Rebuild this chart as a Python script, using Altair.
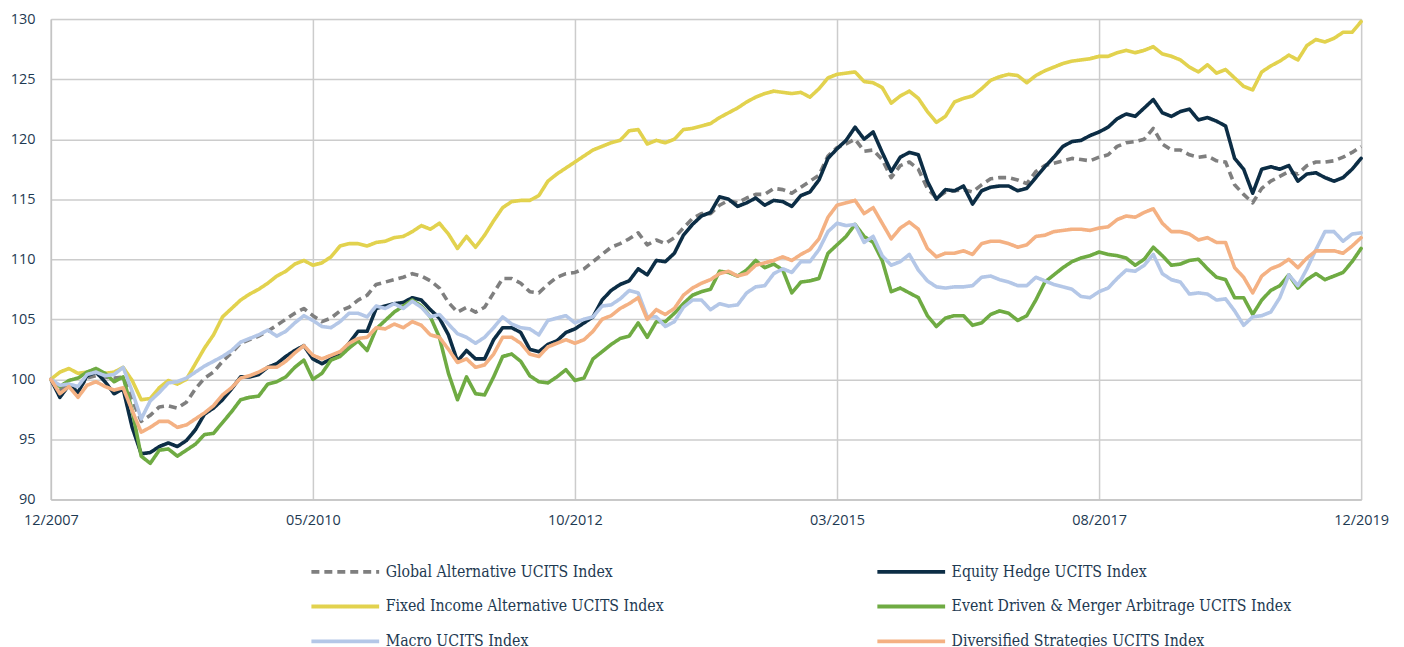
import json
import altair as alt
import pandas as pd

# ---------------- data (monthly index levels) ----------------
series_names = [
    "Global Alternative UCITS Index",
    "Equity Hedge UCITS Index",
    "Fixed Income Alternative UCITS Index",
    "Event Driven & Merger Arbitrage UCITS Index",
    "Macro UCITS Index",
    "Diversified Strategies UCITS Index",
]
# legend reading order (two columns, filled column by column)
legend_order = [
    "Global Alternative UCITS Index",
    "Fixed Income Alternative UCITS Index",
    "Macro UCITS Index",
    "Equity Hedge UCITS Index",
    "Event Driven & Merger Arbitrage UCITS Index",
    "Diversified Strategies UCITS Index",
]
tick_labels = ["12/2007", "05/2010", "10/2012", "03/2015", "08/2017", "12/2019"]

global_alt = [
    100.0, 99.1, 99.6, 99.1, 100.1, 100.3, 100.2, 100.1, 100.2, 98.3,
    96.5, 97.0, 97.7, 97.8, 97.6, 98.1, 99.2, 100.1, 100.6, 101.5,
    102.2, 103.0, 103.3, 103.6, 104.0, 104.5, 105.0, 105.5, 105.9, 105.3,
    104.8, 105.1, 105.7, 106.0, 106.6, 107.0, 107.9, 108.1, 108.3, 108.5,
    108.8, 108.6, 108.2, 107.6, 106.4, 105.6, 106.0, 105.6, 106.0, 107.2,
    108.4, 108.4, 108.0, 107.3, 107.2, 107.9, 108.5, 108.8, 108.9, 109.2,
    109.8, 110.4, 111.0, 111.3, 111.7, 112.2, 111.2, 111.6, 111.3, 111.8,
    112.6, 113.4, 113.8, 113.8, 114.5, 114.9, 114.7, 115.1, 115.4, 115.4,
    115.9, 115.8, 115.5, 116.0, 116.5, 117.0, 118.6, 119.3, 119.6, 120.0,
    119.0, 119.1, 118.3, 116.8, 117.8, 118.1, 117.5, 115.9, 115.1, 115.6,
    115.7, 115.8, 115.6, 116.2, 116.7, 116.8, 116.8, 116.6, 116.3, 117.3,
    117.8, 118.0, 118.2, 118.4, 118.3, 118.2, 118.5, 118.7, 119.4, 119.7,
    119.8, 120.0, 120.9, 119.6, 119.1, 119.1, 118.7, 118.5, 118.6, 118.2,
    118.1, 116.2, 115.4, 114.7, 115.9, 116.5, 116.9, 117.3, 117.1, 117.8,
    118.1, 118.1, 118.2, 118.5, 118.9, 119.4,
]
equity_hedge = [
    100.0, 98.5, 99.5, 98.9, 100.3, 100.6, 99.8, 98.8, 99.2, 96.0,
    93.8, 93.9, 94.4, 94.7, 94.4, 94.9, 95.8, 97.1, 97.6, 98.3,
    99.2, 100.2, 100.2, 100.4, 101.0, 101.3, 101.9, 102.4, 102.8, 101.7,
    101.3, 101.7, 102.1, 103.0, 104.0, 104.0, 105.9, 106.1, 106.3, 106.4,
    106.8, 106.6, 105.8, 105.1, 103.7, 101.5, 102.4, 101.7, 101.7, 103.3,
    104.3, 104.3, 103.9, 102.5, 102.3, 102.9, 103.2, 103.9, 104.2, 104.7,
    105.2, 106.6, 107.4, 107.9, 108.2, 109.2, 108.7, 109.9, 109.8, 110.5,
    112.0, 112.9, 113.6, 113.9, 115.2, 115.0, 114.4, 114.7, 115.1, 114.5,
    114.9, 114.8, 114.4, 115.3, 115.6, 116.6, 118.4, 119.2, 119.9, 121.0,
    120.0, 120.6, 118.9, 117.3, 118.5, 118.9, 118.7, 116.5, 115.0, 115.8,
    115.7, 116.1, 114.6, 115.7, 116.0, 116.1, 116.1, 115.7, 115.9, 116.8,
    117.7, 118.5, 119.4, 119.8, 119.9, 120.3, 120.6, 121.0, 121.7, 122.1,
    121.9, 122.6, 123.3, 122.2, 121.9, 122.3, 122.5, 121.6, 121.8, 121.5,
    121.1, 118.4, 117.5, 115.5, 117.5, 117.7, 117.5, 117.8, 116.5, 117.1,
    117.2, 116.8, 116.5, 116.8, 117.5, 118.4,
]
fixed_income = [
    100.0, 100.6, 100.9, 100.5, 100.6, 100.7, 100.5, 100.6, 101.0, 99.9,
    98.3, 98.4, 99.3, 99.9, 99.6, 100.0, 101.3, 102.6, 103.7, 105.2,
    105.9, 106.6, 107.1, 107.5, 108.0, 108.6, 109.0, 109.6, 109.9, 109.5,
    109.7, 110.2, 111.1, 111.3, 111.3, 111.1, 111.4, 111.5, 111.8, 111.9,
    112.3, 112.8, 112.5, 113.0, 112.1, 110.9, 111.9, 111.0, 112.0, 113.2,
    114.3, 114.8, 114.9, 114.9, 115.3, 116.5, 117.1, 117.6, 118.1, 118.6,
    119.1, 119.4, 119.7, 119.9, 120.7, 120.8, 119.6, 119.9, 119.7, 120.0,
    120.8, 120.9, 121.1, 121.3, 121.8, 122.2, 122.6, 123.1, 123.5, 123.8,
    124.0, 123.9, 123.8, 123.9, 123.5, 124.2, 125.1, 125.4, 125.5, 125.6,
    124.8, 124.7, 124.3, 123.0, 123.6, 124.0, 123.4, 122.3, 121.4, 121.9,
    123.1, 123.4, 123.6, 124.2, 124.9, 125.2, 125.4, 125.3, 124.7, 125.3,
    125.7, 126.0, 126.3, 126.5, 126.6, 126.7, 126.9, 126.9, 127.2, 127.4,
    127.2, 127.4, 127.7, 127.1, 126.9, 126.6, 126.0, 125.6, 126.2, 125.5,
    125.8, 125.1, 124.4, 124.1, 125.6, 126.1, 126.5, 127.0, 126.6, 127.8,
    128.3, 128.1, 128.4, 128.9, 128.9, 129.8,
]
event_driven = [
    100.0, 99.4, 99.9, 100.1, 100.6, 100.9, 100.5, 99.8, 100.2, 97.4,
    93.6, 93.0, 94.1, 94.2, 93.6, 94.1, 94.6, 95.4, 95.5, 96.4,
    97.3, 98.3, 98.5, 98.6, 99.6, 99.8, 100.2, 101.0, 101.6, 100.0,
    100.5, 101.6, 101.9, 102.6, 103.2, 102.4, 104.2, 104.9, 105.6, 106.1,
    106.6, 106.1, 105.2, 103.5, 100.5, 98.3, 100.2, 98.8, 98.7, 100.2,
    101.9, 102.1, 101.5, 100.3, 99.8, 99.7, 100.2, 100.8, 99.9, 100.1,
    101.7, 102.3, 102.9, 103.4, 103.6, 104.7, 103.5, 104.8, 104.8, 105.5,
    106.3, 107.0, 107.3, 107.5, 109.0, 108.9, 108.6, 109.1, 109.9, 109.3,
    109.6, 109.1, 107.2, 108.1, 108.2, 108.4, 110.5, 111.2, 111.9, 112.9,
    111.9, 111.4, 109.9, 107.3, 107.6, 107.2, 106.8, 105.3, 104.4, 105.1,
    105.3, 105.3, 104.5, 104.7, 105.4, 105.7, 105.5, 104.9, 105.3, 106.6,
    108.1, 108.7, 109.3, 109.8, 110.1, 110.3, 110.6, 110.4, 110.3, 110.1,
    109.5, 110.0, 111.0, 110.3, 109.5, 109.6, 109.9, 110.0, 109.2, 108.5,
    108.3, 106.8, 106.8, 105.4, 106.6, 107.4, 107.8, 108.7, 107.6, 108.3,
    108.8, 108.3, 108.6, 108.9, 109.8, 110.9,
]
macro = [
    100.0, 99.5, 99.6, 99.4, 100.4, 100.6, 100.3, 100.4, 101.0, 99.0,
    96.7, 98.2, 98.9, 99.7, 99.8, 100.1, 100.6, 101.1, 101.5, 101.9,
    102.4, 103.1, 103.4, 103.7, 104.1, 103.6, 104.0, 104.7, 105.3, 104.9,
    104.4, 104.3, 104.8, 105.5, 105.5, 105.2, 106.1, 105.9, 106.3, 105.9,
    106.5, 106.0, 105.2, 105.4, 104.6, 103.8, 103.5, 103.0, 103.5, 104.3,
    105.2, 104.6, 104.3, 104.2, 103.7, 104.9, 105.1, 105.3, 104.7, 105.0,
    105.2, 106.1, 106.2, 106.7, 107.4, 107.2, 105.2, 105.2, 104.4, 104.8,
    106.0, 106.6, 106.6, 105.8, 106.3, 106.1, 106.2, 107.2, 107.7, 107.8,
    108.8, 109.2, 108.9, 109.8, 109.8, 110.8, 112.3, 113.0, 112.8, 112.9,
    111.4, 111.9, 110.3, 109.5, 109.8, 110.4, 109.1, 108.2, 107.7, 107.6,
    107.7, 107.7, 107.8, 108.5, 108.6, 108.3, 108.1, 107.8, 107.8, 108.5,
    108.2, 107.9, 107.7, 107.5, 106.9, 106.8, 107.3, 107.6, 108.4, 109.1,
    109.0, 109.5, 110.4, 108.8, 108.3, 108.1, 107.1, 107.2, 107.1, 106.6,
    106.7, 105.7, 104.5, 105.2, 105.3, 105.6, 106.8, 108.7, 107.8, 109.2,
    110.8, 112.3, 112.3, 111.5, 112.1, 112.2,
]
diversified = [
    100.0, 98.8, 99.4, 98.5, 99.5, 99.8, 99.4, 99.1, 99.3, 97.4,
    95.6, 96.0, 96.5, 96.5, 96.0, 96.2, 96.7, 97.2, 97.8, 98.7,
    99.3, 100.1, 100.3, 100.6, 101.0, 101.0, 101.5, 102.2, 102.8, 102.0,
    101.7, 102.0, 102.3, 103.0, 103.4, 103.5, 104.3, 104.2, 104.6, 104.3,
    104.8, 104.5, 103.7, 103.5, 102.5, 101.4, 101.7, 101.0, 101.2, 102.1,
    103.5, 103.5, 103.0, 102.1, 101.9, 102.7, 103.0, 103.3, 103.0, 103.3,
    104.0, 105.0, 105.3, 105.9, 106.3, 106.8, 105.0, 105.8, 105.4, 105.9,
    107.0, 107.6, 108.0, 108.3, 108.8, 109.0, 108.6, 108.8, 109.5, 109.7,
    109.9, 110.2, 109.9, 110.4, 110.8, 111.7, 113.5, 114.5, 114.7, 114.9,
    113.8, 114.3, 113.0, 111.7, 112.6, 113.1, 112.5, 110.9, 110.2, 110.5,
    110.5, 110.7, 110.4, 111.3, 111.5, 111.5, 111.3, 111.0, 111.2, 111.9,
    112.0, 112.3, 112.4, 112.5, 112.5, 112.4, 112.6, 112.7, 113.3, 113.6,
    113.5, 113.9, 114.2, 113.0, 112.3, 112.3, 112.1, 111.6, 111.8, 111.4,
    111.4, 109.3, 108.5, 107.2, 108.6, 109.2, 109.5, 110.0, 109.3, 110.1,
    110.7, 110.7, 110.7, 110.5, 111.1, 111.8,
]

values_by_series = [global_alt, equity_hedge, fixed_income, event_driven, macro, diversified]

# ---------------- styling ----------------
color_of = {
    "Global Alternative UCITS Index": "#7f7f7f",
    "Equity Hedge UCITS Index": "#0c2d45",
    "Fixed Income Alternative UCITS Index": "#e2d24e",
    "Event Driven & Merger Arbitrage UCITS Index": "#6fab43",
    "Macro UCITS Index": "#b4c7e7",
    "Diversified Strategies UCITS Index": "#f4b183",
}
text_color = "#1e3a52"
axis_font = "Open Sans"
legend_font = "DejaVu Serif Condensed, DejaVu Serif"

rows = []
for name, vals in zip(series_names, values_by_series):
    for i, v in enumerate(vals):
        rows.append({"m": i, "v": v, "s": name})
df = pd.DataFrame(rows)

n_last = len(global_alt) - 1
tick_vals = [round(k * n_last / 5) for k in range(6)]
label_expr = "%s[round(datum.value / %d)]" % (json.dumps(tick_labels), n_last // 5)

x_enc = alt.X(
    "m:Q",
    scale=alt.Scale(domain=[0, n_last], nice=False, zero=False),
    axis=alt.Axis(
        values=tick_vals, labelExpr=label_expr, title=None, grid=True,
        ticks=False, tickSize=0, labelPadding=14, labelFlush=False,
        labelOverlap=False, domainColor="#c4c4c4", domainWidth=1.5,
        gridColor="#cccccc", gridWidth=1.5, labelFont=axis_font,
        labelFontSize=14.5, labelColor=text_color,
    ),
)
y_enc = alt.Y(
    "v:Q",
    scale=alt.Scale(domain=[90, 130], nice=False, zero=False),
    axis=alt.Axis(
        values=list(range(90, 131, 5)), title=None, grid=True, ticks=False,
        tickSize=0, labelPadding=16, labelFlush=False, domainColor="#c4c4c4",
        domainWidth=1.5, gridColor="#cccccc", gridWidth=1.5,
        labelFont=axis_font, labelFontSize=14.5, labelColor=text_color,
    ),
)
# a long horizontal stroke drawn with a small symbol size keeps the legend rows compact
legend = alt.Legend(
    title=None, orient="none", legendX=285, legendY=544, columns=2,
    symbolType="M-4,0H4", symbolSize=289, symbolStrokeWidth=4,
    labelFont=legend_font, labelFontSize=15.8, labelColor=text_color,
    labelOffset=30, rowPadding=16, columnPadding=144, gridAlign="all",
    padding=0, labelLimit=0,
)
color_enc = alt.Color(
    "s:N",
    scale=alt.Scale(domain=legend_order, range=[color_of[n] for n in legend_order]),
    legend=legend,
)
dash_enc = alt.StrokeDash(
    "s:N",
    scale=alt.Scale(
        domain=legend_order,
        range=[[8, 5] if n == series_names[0] else [1, 0] for n in legend_order],
    ),
    legend=legend,
)

layers = []
for name in series_names:
    is_dash = name == series_names[0]
    layers.append(
        alt.Chart(df)
        .transform_filter(alt.datum.s == name)
        .mark_line(strokeWidth=3.6, strokeJoin="round", strokeCap="butt" if is_dash else "round")
        .encode(x=x_enc, y=y_enc, color=color_enc, strokeDash=dash_enc)
    )

chart = (
    alt.layer(*layers)
    .properties(
        width=1315, height=482,
        autosize=alt.AutoSizeParams(type="none"),
        padding={"left": 43, "top": 10, "right": 35, "bottom": 150},
    )
    .configure_view(stroke=None)
    .configure(background="white")
)

chart.save("out.html", embed_options={"renderer": "svg", "actions": False})
